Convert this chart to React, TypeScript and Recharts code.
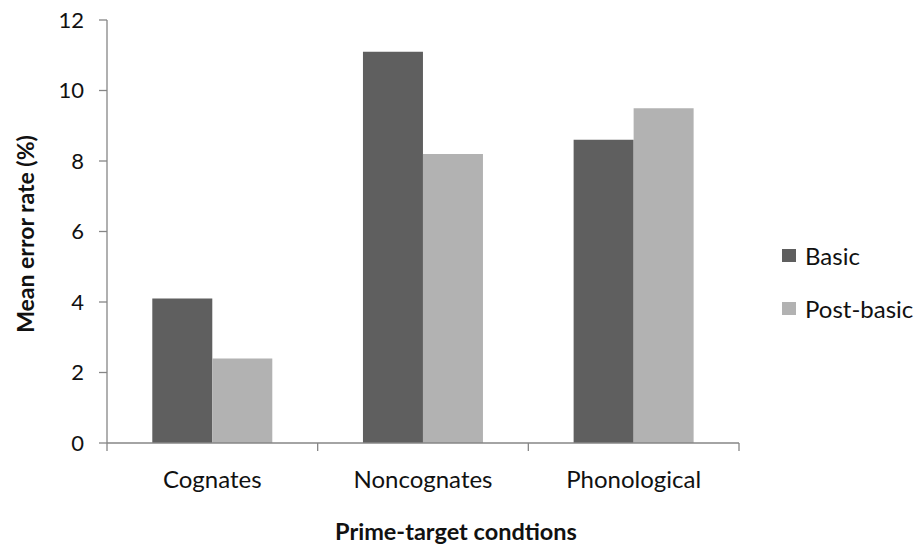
import React from 'react';
import { BarChart, Bar, XAxis, YAxis, Legend, Label } from 'recharts';

const categories = ['Cognates', 'Noncognates', 'Phonological'];
const basic = [4.1, 11.1, 8.6];
const postBasic = [2.4, 8.2, 9.5];
const yTicks = [0, 2, 4, 6, 8, 10, 12];
const seriesNames = ['Basic', 'Post-basic'];
const seriesColors = ['#5f5f5f', '#b2b2b2'];

const data = categories.map((c, i) => ({ name: c, basic: basic[i], post: postBasic[i] }));

const W = 916;
const H = 546;
const FONT = 'Lato, "Open Sans", sans-serif';
const AXIS = '#868686';

const XTick = (props: any) => {
  const { x, y, payload, index, visibleTicksCount } = props;
  const half = payload && payload.offset ? payload.offset : 0;
  const last = index === (visibleTicksCount ?? categories.length) - 1;
  return (
    <g>
      <line x1={x - half} x2={x - half} y1={y} y2={y + 8} stroke={AXIS} strokeWidth={1.3} />
      {last && <line x1={x + half} x2={x + half} y1={y} y2={y + 8} stroke={AXIS} strokeWidth={1.3} />}
      <text x={x} y={y + 35} textAnchor="middle" dominantBaseline="central" fontFamily={FONT} fontSize={24} fill="#111">
        {payload.value}
      </text>
    </g>
  );
};

const LegendContent = () => (
  <div style={{ fontFamily: FONT, fontSize: 24, color: '#111' }}>
    {seriesNames.map((n, i) => (
      <div key={n} style={{ display: 'flex', alignItems: 'center', height: 30, marginBottom: i === 0 ? 23 : 0 }}>
        <span style={{ display: 'inline-block', width: 14, height: 13, background: seriesColors[i], marginRight: 9 }} />
        <span>{n}</span>
      </div>
    ))}
  </div>
);

export default function App() {
  return (
    <div style={{ position: 'absolute', left: 0, top: 0, width: W, height: H, background: '#fff' }}>
      <BarChart
        width={W}
        height={H}
        data={data}
        margin={{ top: 20, right: 177, bottom: 43, left: 0 }}
        barCategoryGap="21.5%"
        barGap={0}
      >
        <XAxis
          dataKey="name"
          height={60}
          stroke={AXIS}
          strokeWidth={1.3}
          tickLine={false}
          tickSize={0}
          tickMargin={0}
          interval={0}
          tick={<XTick />}
        >
          <Label
            content={() => (
              <text x={W / 2 - 2} y={531} textAnchor="middle" dominantBaseline="central" fontFamily={FONT} fontWeight="bold" fontSize={23.5} fill="#111">
                Prime-target condtions
              </text>
            )}
          />
        </XAxis>
        <YAxis
          width={107}
          domain={[0, 12]}
          ticks={yTicks}
          interval={0}
          stroke={AXIS}
          strokeWidth={1.3}
          tickSize={8}
          tickMargin={15}
          tick={{ fontFamily: FONT, fontSize: 22, fill: '#111' }}
        >
          <Label
            content={() => (
              <text
                x={25}
                y={234}
                transform="rotate(-90 25 234)"
                textAnchor="middle"
                dominantBaseline="central"
                fontFamily={FONT}
                fontWeight="bold"
                fontSize={23}
                fill="#111"
              >
                Mean error rate (%)
              </text>
            )}
          />
        </YAxis>
        <Legend
          layout="vertical"
          align="center"
          verticalAlign="middle"
          wrapperStyle={{ position: 'absolute', left: 782, top: 240, width: 134 }}
          content={<LegendContent />}
        />
        <Bar dataKey="basic" name={seriesNames[0]} fill={seriesColors[0]} isAnimationActive={false} />
        <Bar dataKey="post" name={seriesNames[1]} fill={seriesColors[1]} isAnimationActive={false} />
      </BarChart>
    </div>
  );
}
